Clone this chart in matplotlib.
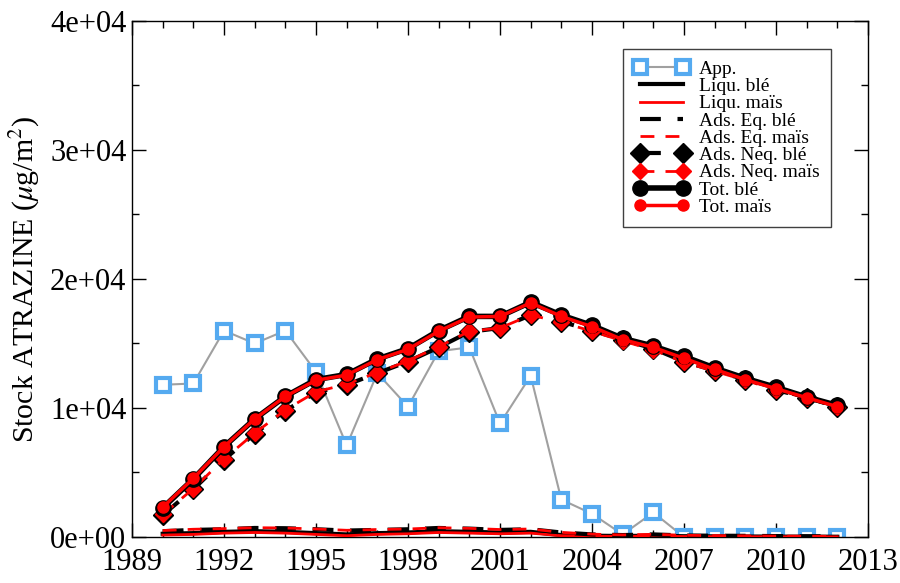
import matplotlib
matplotlib.use('Agg')
import matplotlib.pyplot as plt
from matplotlib.ticker import MultipleLocator

plt.rcParams['font.family'] = 'Liberation Serif'
plt.rcParams['mathtext.fontset'] = 'stix'

years = list(range(1990, 2013))

app = [11800, 11900, 16000, 15000, 16000, 12800, 7100, 12700, 10100, 14400,
       14700, 8800, 12500, 2900, 1800, 200, 1900, 0, 0, 0, 0, 0, 0]

tot_ble = [2250, 4500, 7000, 9150, 10900, 12200, 12600, 13800, 14600, 16000,
           17100, 17100, 18200, 17200, 16400, 15400, 14800, 14000, 13100, 12300,
           11600, 10850, 10200]
tot_mais = [2300, 4550, 7000, 9150, 10900, 12150, 12550, 13750, 14550, 15950,
            17050, 17100, 18150, 17100, 16300, 15300, 14700, 13850, 13000, 12200,
            11500, 10800, 10100]

neq_ble = [1700, 3700, 6000, 8000, 9800, 11200, 11800, 12700, 13600, 14700,
           15900, 16200, 17200, 16700, 16000, 15300, 14600, 13600, 12900, 12200,
           11400, 10800, 10100]
neq_mais = [1750, 3750, 6050, 8050, 9850, 11250, 11850, 12750, 13650, 14750,
            15950, 16200, 17200, 16650, 15950, 15200, 14500, 13550, 12850, 12150,
            11400, 10750, 10100]

eq_ble = [450, 550, 600, 700, 680, 600, 500, 550, 600, 700, 650, 550, 600,
          350, 200, 150, 200, 120, 100, 90, 70, 60, 50]
eq_mais = [500, 600, 650, 720, 700, 620, 520, 580, 620, 720, 670, 580, 620,
           360, 220, 160, 210, 130, 110, 90, 70, 60, 50]

liq_ble = [250, 300, 400, 450, 400, 300, 200, 300, 350, 450, 400, 350, 400,
           150, 100, 80, 100, 60, 50, 40, 30, 30, 20]
liq_mais = [150, 200, 300, 350, 300, 200, 100, 200, 250, 350, 300, 250, 300,
            100, 60, 50, 70, 40, 30, 25, 20, 20, 15]

blue = '#55aaf0'

fig = plt.figure(figsize=(9, 5.83), dpi=100)
ax = fig.add_axes([0.1467, 0.0789, 0.8177, 0.8851])

ax.plot(years, app, color='#a0a0a0', lw=1.5, marker='s', ms=10, mfc='white',
        mec=blue, mew=3, label='App.', zorder=2)
ax.plot(years, liq_ble, color='black', lw=3, label='Liqu. blé', zorder=3)
ax.plot(years, liq_mais, color='red', lw=2, label='Liqu. maïs', zorder=3)
ax.plot(years, eq_ble, color='black', lw=3, ls=(0, (5, 4)), label='Ads. Eq. blé', zorder=3)
ax.plot(years, eq_mais, color='red', lw=2, ls=(0, (5, 4)), label='Ads. Eq. maïs', zorder=3)
ax.plot(years, neq_ble, color='black', lw=3, ls=(0, (5, 4)), marker='D', ms=10,
        mfc='black', mec='black', label='Ads. Neq. blé', zorder=4)
ax.plot(years, neq_mais, color='red', lw=2, ls=(0, (5, 4)), marker='D', ms=8,
        mfc='red', mec='red', label='Ads. Neq. maïs', zorder=5)
ax.plot(years, tot_ble, color='black', lw=4, marker='o', ms=11,
        mfc='black', mec='black', label='Tot. blé', zorder=6)
ax.plot(years, tot_mais, color='red', lw=2.5, marker='o', ms=8,
        mfc='red', mec='red', label='Tot. maïs', zorder=7)

ax.set_xlim(1989, 2013)
ax.set_ylim(0, 40000)
ax.xaxis.set_major_locator(MultipleLocator(3))
ax.xaxis.set_minor_locator(MultipleLocator(1))
ax.yaxis.set_minor_locator(MultipleLocator(5000))
ax.set_yticks([0, 10000, 20000, 30000, 40000])
ax.set_yticklabels(['0e+00', '1e+04', '2e+04', '3e+04', '4e+04'])
ax.tick_params(which='both', direction='in', top=True, right=True, labelsize=22)
ax.tick_params(which='major', length=10, width=1)
ax.tick_params(which='minor', length=5, width=1)
ax.tick_params(axis='y', pad=4)
ax.tick_params(axis='x', pad=8)
for s in ax.spines.values():
    s.set_linewidth(1)

ax.set_ylabel(r'Stock ATRAZINE ($\mu$g/m$^2$)', fontsize=21.5, labelpad=6)

leg = ax.legend(loc='upper right', bbox_to_anchor=(0.963, 0.965), fontsize=14,
                numpoints=2, handlelength=2.8, labelspacing=-0.02,
                borderpad=0.6, handletextpad=0.5, fancybox=False,
                framealpha=1, edgecolor='#404040')
leg.get_frame().set_linewidth(1)

plt.savefig('out.png', dpi=100)
